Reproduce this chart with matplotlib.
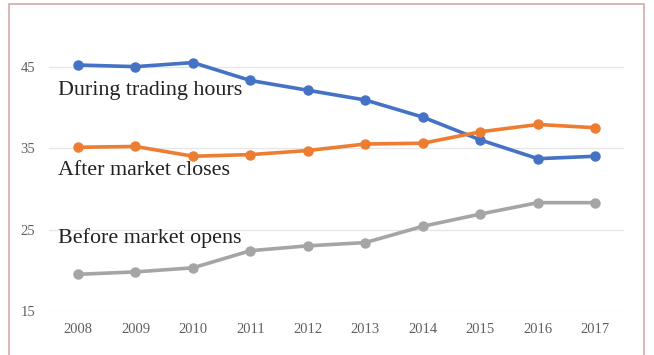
import matplotlib
matplotlib.use("Agg")
import matplotlib.pyplot as plt
from matplotlib.patches import Rectangle

years = ['2008', '2009', '2010', '2011', '2012', '2013', '2014', '2015', '2016', '2017']
during = [45.2, 45.0, 45.5, 43.3, 42.1, 40.9, 38.8, 36.0, 33.7, 34.0]
after = [35.1, 35.2, 34.0, 34.2, 34.7, 35.5, 35.6, 37.0, 37.9, 37.5]
before = [19.5, 19.8, 20.3, 22.4, 23.0, 23.4, 25.4, 26.9, 28.3, 28.3]
y_ticks = [15, 25, 35, 45]

plt.rcParams['font.family'] = ['Liberation Serif', 'DejaVu Serif']

fig = plt.figure(figsize=(6.54, 3.55), dpi=100)
ax = fig.add_axes([0.0753, 0.124, 0.879, 0.7915])

x = list(range(len(years)))
ax.plot(x, during, color='#4472C4', lw=2.6, marker='o', ms=6.5, zorder=3)
ax.plot(x, after, color='#ED7D31', lw=2.6, marker='o', ms=6.5, zorder=3)
ax.plot(x, before, color='#A5A5A5', lw=2.6, marker='o', ms=6.5, zorder=3)

ax.set_xlim(-0.5, len(years) - 0.5)
ax.set_ylim(15, 49.5)
ax.set_yticks(y_ticks)
ax.set_xticks(x)
ax.set_xticklabels(years)
ax.yaxis.grid(True, color='#e6e6e6', lw=0.9)
ax.set_axisbelow(True)
for s in ax.spines.values():
    s.set_visible(False)
ax.tick_params(length=0, colors='#606060', labelsize=10.5)
ax.tick_params(axis='x', pad=9)
ax.tick_params(axis='y', pad=10)

# series labels
ax.text(-0.35, 42.1, 'During trading hours', fontsize=15.8, va='center', color='#222222')
ax.text(-0.35, 32.3, 'After market closes', fontsize=15.8, va='center', color='#222222')
ax.text(-0.35, 24.0, 'Before market opens', fontsize=15.8, va='center', color='#222222')

# frame around the chart
fig.patches.append(Rectangle((9 / 654, -0.02), (644 - 9) / 654, 1 - 4 / 355 + 0.02,
                             transform=fig.transFigure, fill=False,
                             edgecolor='#d4a9a9', lw=1.2))

fig.savefig('out.png', dpi=100)
